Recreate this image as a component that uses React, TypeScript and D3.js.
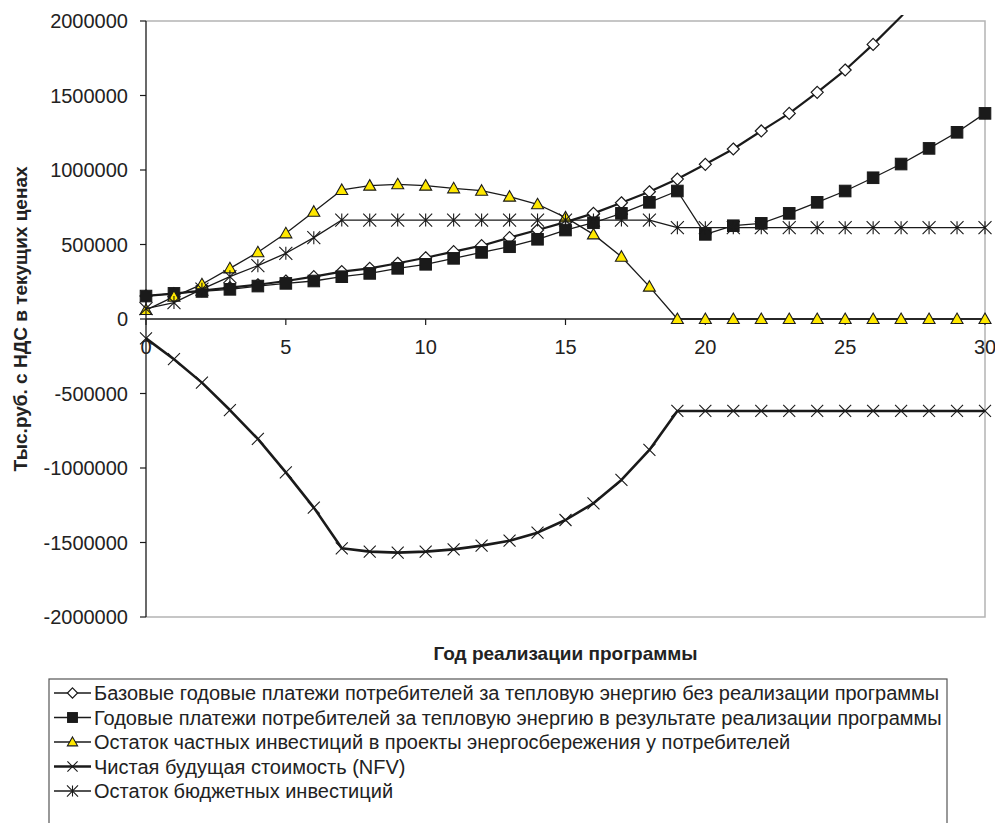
import React from "react";
import * as d3 from "d3";

const years = [0,1,2,3,4,5,6,7,8,9,10,11,12,13,14,15,16,17,18,19,20,21,22,23,24,25,26,27,28,29,30];

const basePayments = [155000,170000,190000,210000,230000,255000,284000,318000,340000,374000,411000,452000,492000,546000,597000,650000,709000,780000,854000,939000,1038000,1141000,1262000,1380000,1521000,1671000,1843000,2030000,2240000,2460000,2700000];
const programPayments = [154000,172000,185000,199000,221000,239000,255000,284000,306000,340000,367000,407000,447000,485000,535000,597000,646000,709000,783000,859000,568000,626000,642000,709000,783000,859000,948000,1040000,1145000,1253000,1380000];
const privateInvest = [60000,150000,233000,340000,448000,575000,720000,866000,895000,904000,895000,877000,861000,821000,770000,682000,568000,418000,217000,0,0,0,0,0,0,0,0,0,0,0,0];
const nfv = [-130000,-270000,-427000,-611000,-805000,-1029000,-1266000,-1539000,-1561000,-1568000,-1561000,-1546000,-1521000,-1488000,-1434000,-1349000,-1237000,-1080000,-879000,-617000,-617000,-617000,-617000,-617000,-617000,-617000,-617000,-617000,-617000,-617000,-617000];
const budgetInvest = [70000,110000,200000,284000,358000,441000,546000,664000,664000,664000,664000,664000,664000,664000,664000,664000,664000,664000,664000,613000,613000,613000,613000,613000,613000,613000,613000,613000,613000,613000,613000];

const yTicks = [2000000,1500000,1000000,500000,0,-500000,-1000000,-1500000,-2000000];
const xTicks = [0,5,10,15,20,25,30];

const seriesNames = [
  "Базовые годовые платежи потребителей за тепловую энергию без реализации программы",
  "Годовые платежи потребителей за тепловую энергию в результате реализации программы",
  "Остаток частных инвестиций в проекты энергосбережения у потребителей",
  "Чистая будущая стоимость (NFV)",
  "Остаток бюджетных инвестиций",
];
const yTitle = "Тыс.руб. с НДС в текущих ценах";
const xTitle = "Год реализации программы";

const FONT = "'Liberation Sans', Arial, sans-serif";
const INK = "#1a1a1a";
const YELLOW = "#ffe800";

type Marker = "diamond" | "square" | "triangle" | "x" | "star";

function MarkerShape({ kind, x, y, s = 1 }: { kind: Marker; x: number; y: number; s?: number }) {
  if (kind === "diamond") {
    const r = 6 * s;
    return <path d={`M${x},${y - r}L${x + r},${y}L${x},${y + r}L${x - r},${y}Z`} fill="#fff" stroke={INK} strokeWidth={1.2} />;
  }
  if (kind === "square") {
    const r = 5.8 * s;
    return <rect x={x - r} y={y - r} width={2 * r} height={2 * r} fill={INK} stroke={INK} strokeWidth={1} />;
  }
  if (kind === "triangle") {
    const r = 6 * s;
    return <path d={`M${x},${y - r}L${x + r},${y + r * 0.75}L${x - r},${y + r * 0.75}Z`} fill={YELLOW} stroke={INK} strokeWidth={1.1} />;
  }
  if (kind === "x") {
    const r = 6 * s;
    return <path d={`M${x - r},${y - r}L${x + r},${y + r}M${x - r},${y + r}L${x + r},${y - r}`} stroke={INK} strokeWidth={1.1} fill="none" />;
  }
  const r = 6.5 * s;
  return <path d={`M${x - r},${y - r}L${x + r},${y + r}M${x - r},${y + r}L${x + r},${y - r}M${x},${y - r}L${x},${y + r}`} stroke={INK} strokeWidth={1.1} fill="none" />;
}

export default function App() {
  const left = 146, right = 985, top = 21, bottom = 617;
  const x = d3.scaleLinear().domain([0, 30]).range([left, right]);
  const y = d3.scaleLinear().domain([-2000000, 2000000]).range([bottom, top]);

  const series: { values: number[]; marker: Marker; width: number }[] = [
    { values: basePayments, marker: "diamond", width: 2.2 },
    { values: programPayments, marker: "square", width: 1.3 },
    { values: privateInvest, marker: "triangle", width: 1.3 },
    { values: nfv, marker: "x", width: 2.6 },
    { values: budgetInvest, marker: "star", width: 1.3 },
  ];

  const line = d3.line<number>().x((_, i) => x(years[i])).y((v) => y(v));

  const legendTop = 679;
  const legendRow = (i: number) => 693 + i * 24.5;

  return (
    <svg width={995} height={823} style={{ position: "absolute", left: 0, top: 0, background: "#fff" }} fontFamily={FONT}>
      <defs>
        <clipPath id="plotclip">
          <rect x={left - 8} y={top - 6} width={right - left + 16} height={bottom - top + 12} />
        </clipPath>
      </defs>
      <rect x={0} y={0} width={995} height={823} fill="#fff" />
      {/* plot frame */}
      <path d={`M${left},${top}H${right}V${bottom}H${left}`} fill="none" stroke="#b4b4b4" strokeWidth={1.5} />
      {/* y axis */}
      <line x1={left} x2={left} y1={top} y2={bottom} stroke={INK} strokeWidth={1.3} />
      {yTicks.map((t) => (
        <g key={t}>
          <line x1={left - 6} x2={left} y1={y(t)} y2={y(t)} stroke={INK} strokeWidth={1.2} />
          <text x={128} y={y(t)} dy="0.36em" textAnchor="end" fontSize={20} fill="#222">{t}</text>
        </g>
      ))}
      {/* x axis at zero */}
      <line x1={left} x2={right} y1={y(0)} y2={y(0)} stroke={INK} strokeWidth={1.3} />
      {xTicks.map((t) => (
        <g key={t}>
          <line x1={x(t)} x2={x(t)} y1={y(0)} y2={y(0) + 6} stroke={INK} strokeWidth={1.2} />
          <text x={x(t)} y={347} dy="0.36em" textAnchor="middle" fontSize={20} fill="#222">{t}</text>
        </g>
      ))}
      {/* series */}
      <g clipPath="url(#plotclip)">
        {series.map((s, si) => (
          <g key={si}>
            <path d={line(s.values) || ""} fill="none" stroke={INK} strokeWidth={s.width} strokeLinejoin="round" />
            {s.values.map((v, i) =>
              v <= 2000000 && v >= -2000000 ? <MarkerShape key={i} kind={s.marker} x={x(years[i])} y={y(v)} /> : null
            )}
          </g>
        ))}
      </g>
      {/* axis titles */}
      <text transform={`translate(20,${(top + bottom) / 2}) rotate(-90)`} dy="0.36em" textAnchor="middle" fontSize={19} fontWeight="bold" fill="#222">{yTitle}</text>
      <text x={(left + right) / 2} y={653} dy="0.36em" textAnchor="middle" fontSize={19} fontWeight="bold" fill="#222">{xTitle}</text>
      {/* legend */}
      <rect x={49} y={legendTop} width={898} height={200} fill="#fff" stroke="#555" strokeWidth={1.2} />
      {seriesNames.map((name, i) => (
        <g key={i}>
          <line x1={54} x2={91} y1={legendRow(i)} y2={legendRow(i)} stroke={INK} strokeWidth={series[i].marker === "x" ? 2.6 : 1.4} />
          <MarkerShape kind={series[i].marker} x={72.5} y={legendRow(i)} s={0.85} />
          <text x={94} y={legendRow(i)} dy="0.36em" fontSize={20} fill="#222">{name}</text>
        </g>
      ))}
    </svg>
  );
}
